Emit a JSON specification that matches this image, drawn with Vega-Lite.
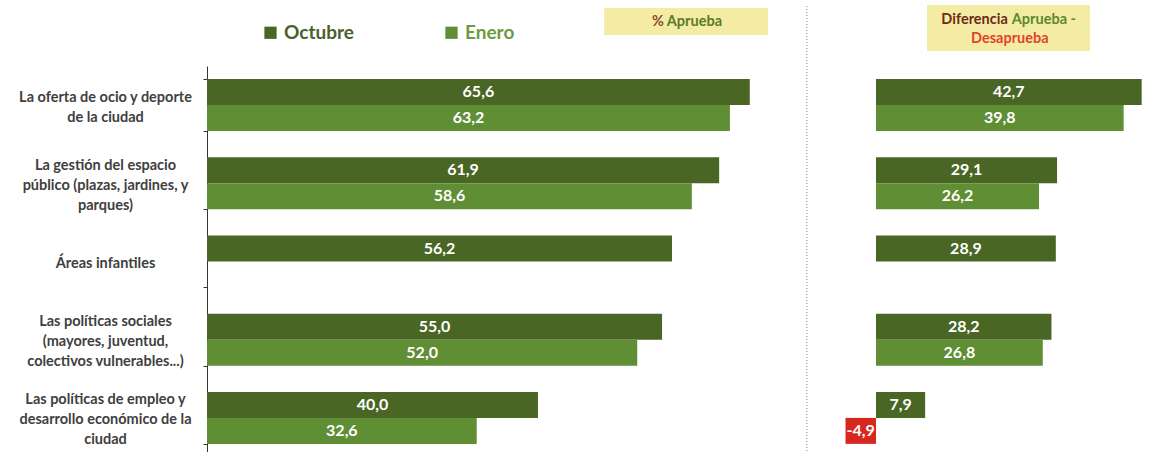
{
  "$schema": "https://vega.github.io/schema/vega-lite/v6.json",
  "padding": {"left": 18, "top": 3, "right": 5, "bottom": 0},
  "background": "white",
  "config": {
    "view": {"stroke": null},
    "font": "Lato",
    "locale": {"number": {"decimal": ",", "thousands": ".", "grouping": [3], "currency": ["", " €"], "minus": "-"}}
  },
  "datasets": {
    "encuesta": [
      {"cat": "La oferta de ocio y deporte|de la ciudad", "serie": "Octubre", "aprueba": 65.6, "diferencia": 42.7},
      {"cat": "La oferta de ocio y deporte|de la ciudad", "serie": "Enero", "aprueba": 63.2, "diferencia": 39.8},
      {"cat": "La gestión del espacio|público (plazas, jardines, y|parques)", "serie": "Octubre", "aprueba": 61.9, "diferencia": 29.1},
      {"cat": "La gestión del espacio|público (plazas, jardines, y|parques)", "serie": "Enero", "aprueba": 58.6, "diferencia": 26.2},
      {"cat": "Áreas infantiles", "serie": "Octubre", "aprueba": 56.2, "diferencia": 28.9},
      {"cat": "Las políticas sociales|(mayores, juventud,|colectivos vulnerables...)", "serie": "Octubre", "aprueba": 55.0, "diferencia": 28.2},
      {"cat": "Las políticas sociales|(mayores, juventud,|colectivos vulnerables...)", "serie": "Enero", "aprueba": 52.0, "diferencia": 26.8},
      {"cat": "Las políticas de empleo y|desarrollo económico de la|ciudad", "serie": "Octubre", "aprueba": 40.0, "diferencia": 7.9},
      {"cat": "Las políticas de empleo y|desarrollo económico de la|ciudad", "serie": "Enero", "aprueba": 32.6, "diferencia": -4.9}
    ]
  },
  "hconcat": [
    {
      "width": 604,
      "height": 391,
      "resolve": {"scale": {"x": "independent", "y": "independent"}},
      "layer": [
        {
          "data": {"values": [{"linea": "separador"}]},
          "mark": {"type": "rule", "color": "#8a97b8", "strokeDash": [1, 2], "strokeWidth": 1.2},
          "encoding": {
            "x": {"datum": 72.5, "type": "quantitative", "scale": {"domain": [0, 73]}, "axis": null},
            "y": {"datum": 0, "type": "quantitative", "scale": {"domain": [0, 100], "nice": false}, "axis": null},
            "y2": {"datum": 115.86}
          }
        },
        {
          "data": {"values": [{"texto": "% Aprueba"}]},
          "mark": {"type": "rect", "color": "#f4eca4"},
          "encoding": {
            "x": {"datum": 48, "type": "quantitative", "scale": {"domain": [0, 73]}, "axis": null},
            "x2": {"datum": 67.8},
            "y": {"datum": 114.83, "type": "quantitative", "scale": {"domain": [0, 100], "nice": false}, "axis": null},
            "y2": {"datum": 107.93}
          }
        },
        {
          "data": {"values": [{"texto": "%"}]},
          "mark": {"type": "text", "align": "right", "baseline": "middle", "fontWeight": "bold", "fontSize": 14.5, "color": "#8a4a2e", "dx": -1},
          "encoding": {
            "x": {"datum": 55.33, "type": "quantitative", "scale": {"domain": [0, 73]}, "axis": null},
            "y": {"datum": 111.25, "type": "quantitative", "scale": {"domain": [0, 100], "nice": false}, "axis": null},
            "text": {"field": "texto"}
          }
        },
        {
          "data": {"values": [{"texto": "Aprueba"}]},
          "mark": {"type": "text", "align": "left", "baseline": "middle", "fontWeight": "bold", "fontSize": 14.5, "color": "#587a2e", "dx": 2},
          "encoding": {
            "x": {"datum": 55.33, "type": "quantitative", "scale": {"domain": [0, 73]}, "axis": null},
            "y": {"datum": 111.25, "type": "quantitative", "scale": {"domain": [0, 100], "nice": false}, "axis": null},
            "text": {"field": "texto"}
          }
        },
        {
          "data": {"name": "encuesta"},
          "mark": {"type": "bar"},
          "encoding": {
            "y": {
              "field": "cat", "type": "nominal", "sort": null,
              "scale": {"paddingInner": 0.3355, "paddingOuter": 0.1678},
              "axis": {
                "title": null, "grid": false, "domainColor": "#333333", "tickColor": "#333333",
                "tickSize": 4, "tickBand": "extent", "labelAlign": "center", "labelBaseline": "middle",
                "labelPadding": 98, "labelFontWeight": "bold", "labelFontSize": 14.5, "labelColor": "#404040",
                "labelLineHeight": 20, "labelLimit": 300,
                "labelOffset": {"expr": "2 - (length(split(datum.value, '|')) - 1) * 10"},
                "labelExpr": "split(datum.label, '|')"
              }
            },
            "yOffset": {"field": "serie", "sort": ["Octubre", "Enero"], "scale": {"paddingInner": 0, "paddingOuter": 0}},
            "x": {"field": "aprueba", "type": "quantitative", "scale": {"domain": [0, 73]}, "axis": null},
            "color": {
              "field": "serie", "type": "nominal", "sort": ["Octubre", "Enero"],
              "scale": {"domain": ["Octubre", "Enero"], "range": ["#4a6624", "#608e34"]},
              "legend": {
                "orient": "none", "legendX": 54, "legendY": -43, "direction": "horizontal", "title": null,
                "symbolType": "square", "symbolSize": 150, "symbolStrokeWidth": 0, "symbolOpacity": 1,
                "labelFontSize": 19, "labelFontWeight": "bold", "labelOffset": 4, "columnPadding": 88, "padding": 0,
                "encode": {"labels": {"update": {"fill": {"signal": "datum.label === 'Octubre' ? '#4b5f2e' : '#6d9b3f'"}}}}
              }
            }
          }
        },
        {
          "data": {"name": "encuesta"},
          "mark": {"type": "text", "color": "white", "fontWeight": "bold", "fontSize": 16, "baseline": "middle"},
          "encoding": {
            "y": {"field": "cat", "type": "nominal", "sort": null, "scale": {"paddingInner": 0.3355, "paddingOuter": 0.1678}, "axis": null},
            "yOffset": {"field": "serie", "sort": ["Octubre", "Enero"], "scale": {"paddingInner": 0, "paddingOuter": 0}},
            "x": {"field": "aprueba", "type": "quantitative", "scale": {"domain": [0, 146]}, "axis": null},
            "text": {"field": "aprueba", "type": "quantitative", "format": ".1f"}
          }
        }
      ]
    },
    {
      "width": 336,
      "height": 391,
      "resolve": {"scale": {"x": "independent", "y": "independent"}},
      "layer": [
        {
          "data": {"values": [{"texto": "Diferencia Aprueba - Desaprueba"}]},
          "mark": {"type": "rect", "color": "#f4eca4"},
          "encoding": {
            "x": {"datum": 8.2, "type": "quantitative", "scale": {"domain": [-9, 45]}, "axis": null},
            "x2": {"datum": 34.4},
            "y": {"datum": 115.6, "type": "quantitative", "scale": {"domain": [0, 100], "nice": false}, "axis": null},
            "y2": {"datum": 103.84}
          }
        },
        {
          "data": {"values": [{"texto": "Diferencia"}]},
          "mark": {"type": "text", "align": "right", "baseline": "middle", "fontWeight": "bold", "fontSize": 14.5, "color": "#6e2a18", "dx": -2},
          "encoding": {
            "x": {"datum": 21.5, "type": "quantitative", "scale": {"domain": [-9, 45]}, "axis": null},
            "y": {"datum": 111.76, "type": "quantitative", "scale": {"domain": [0, 100], "nice": false}, "axis": null},
            "text": {"field": "texto"}
          }
        },
        {
          "data": {"values": [{"texto": "Aprueba -"}]},
          "mark": {"type": "text", "align": "left", "baseline": "middle", "fontWeight": "bold", "fontSize": 14.5, "color": "#5a8a30", "dx": 2},
          "encoding": {
            "x": {"datum": 21.5, "type": "quantitative", "scale": {"domain": [-9, 45]}, "axis": null},
            "y": {"datum": 111.76, "type": "quantitative", "scale": {"domain": [0, 100], "nice": false}, "axis": null},
            "text": {"field": "texto"}
          }
        },
        {
          "data": {"values": [{"texto": "Desaprueba"}]},
          "mark": {"type": "text", "align": "center", "baseline": "middle", "fontWeight": "bold", "fontSize": 14.5, "color": "#e0442a"},
          "encoding": {
            "x": {"datum": 21.5, "type": "quantitative", "scale": {"domain": [-9, 45]}, "axis": null},
            "y": {"datum": 106.91, "type": "quantitative", "scale": {"domain": [0, 100], "nice": false}, "axis": null},
            "text": {"field": "texto"}
          }
        },
        {
          "data": {"name": "encuesta"},
          "mark": {"type": "bar"},
          "encoding": {
            "y": {"field": "cat", "type": "nominal", "sort": null, "scale": {"paddingInner": 0.3355, "paddingOuter": 0.1678}, "axis": null},
            "yOffset": {"field": "serie", "sort": ["Octubre", "Enero"], "scale": {"paddingInner": 0, "paddingOuter": 0}},
            "x": {"field": "diferencia", "type": "quantitative", "scale": {"domain": [-9, 45]}, "axis": null},
            "color": {
              "condition": {"test": "datum.diferencia < 0", "value": "#d6281f"},
              "field": "serie", "type": "nominal",
              "scale": {"domain": ["Octubre", "Enero"], "range": ["#4a6624", "#608e34"]},
              "legend": null
            }
          }
        },
        {
          "data": {"name": "encuesta"},
          "mark": {"type": "text", "color": "white", "fontWeight": "bold", "fontSize": 16, "baseline": "middle"},
          "encoding": {
            "y": {"field": "cat", "type": "nominal", "sort": null, "scale": {"paddingInner": 0.3355, "paddingOuter": 0.1678}, "axis": null},
            "yOffset": {"field": "serie", "sort": ["Octubre", "Enero"], "scale": {"paddingInner": 0, "paddingOuter": 0}},
            "x": {"field": "diferencia", "type": "quantitative", "scale": {"domain": [-18, 90]}, "axis": null},
            "text": {"field": "diferencia", "type": "quantitative", "format": ".1f"}
          }
        }
      ]
    }
  ],
  "spacing": 9,
  "resolve": {"scale": {"color": "independent"}, "legend": {"color": "independent"}}
}
